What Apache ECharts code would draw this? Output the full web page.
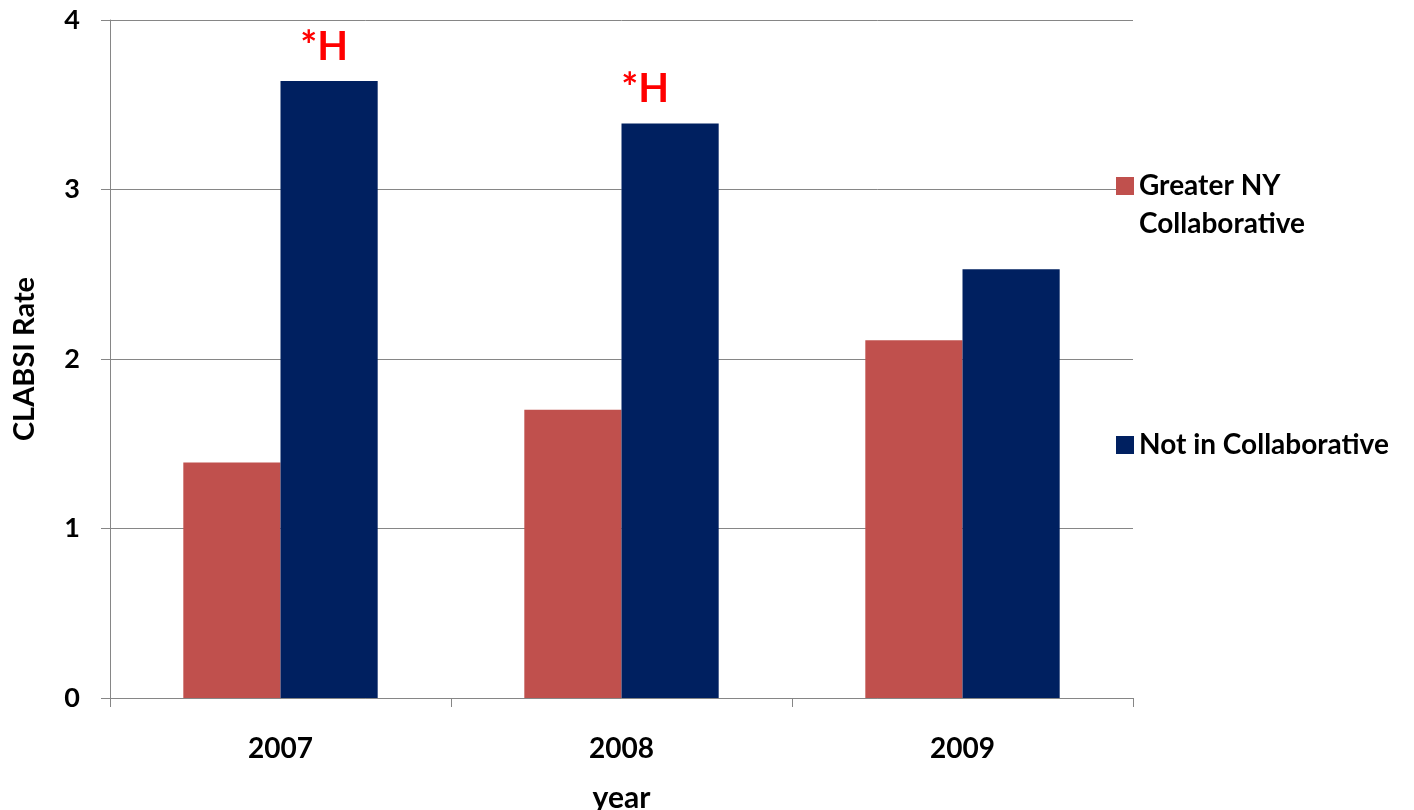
<!DOCTYPE html>
<html>
<head>
<meta charset="utf-8">
<style>
  html, body { margin: 0; padding: 0; background: #ffffff; }
  #chart { width: 1414px; height: 810px; }
</style>
<script src="https://cdn.jsdelivr.net/npm/echarts@6/dist/echarts.min.js"></script>
</head>
<body>
<div id="chart"></div>
<script>
// CLABSI rate by year, collaborative vs non-collaborative hospitals
const years = ['2007', '2008', '2009'];
const greaterNY = [1.39, 1.70, 2.11];
const notInCollab = [3.64, 3.39, 2.53];
const notes = ['*H', '*H', ''];
const seriesNames = ['Greater NY\nCollaborative', 'Not in Collaborative'];
const yTicks = [0, 1, 2, 3, 4];

const FONT = 'Lato';
const GRAY = '#868686';

// horizontal nudge of each significance note above its bar
const noteOffsetX = [-5, -25, 0];

const chart = echarts.init(document.getElementById('chart'));

const legendText = {
  fontFamily: FONT, fontWeight: 'bold', fontSize: 28, color: '#000', lineHeight: 38
};

// two-line legend entry: an empty leading row keeps the swatch level with the first line
const twoLineLegend = {
  formatter: name => '{pad| }\n' + name.split('\n').map(s => '{t|' + s + '}').join('\n'),
  textStyle: {
    rich: {
      pad: { fontSize: 28, lineHeight: 38 },
      t: Object.assign({}, legendText)
    }
  }
};

chart.setOption({
  backgroundColor: '#ffffff',
  animation: false,
  grid: { left: 110, right: 281, top: 20, bottom: 112, outerBoundsMode: 'none' },
  legend: [
    Object.assign({
      data: [seriesNames[0]],
      left: 1111, top: 129,
      icon: 'rect', itemWidth: 18, itemHeight: 18, itemGap: 0,
      selectedMode: false
    }, twoLineLegend),
    {
      data: [seriesNames[1]],
      left: 1111, top: 421,
      icon: 'rect', itemWidth: 18, itemHeight: 18, itemGap: 0,
      textStyle: legendText,
      selectedMode: false
    }
  ],
  xAxis: {
    type: 'category',
    data: years,
    name: 'year',
    nameLocation: 'middle',
    nameGap: 85,
    nameTextStyle: { fontFamily: FONT, fontWeight: 'bold', fontSize: 30, color: '#000' },
    axisLine: { lineStyle: { color: GRAY, width: 1 } },
    axisTick: { show: true, alignWithLabel: false, length: 9, lineStyle: { color: GRAY } },
    axisLabel: { fontFamily: FONT, fontWeight: 'bold', fontSize: 28, color: '#000', margin: 37 }
  },
  yAxis: {
    type: 'value',
    min: yTicks[0],
    max: yTicks[yTicks.length - 1],
    interval: 1,
    name: 'CLABSI Rate',
    nameLocation: 'middle',
    nameGap: 71,
    nameRotate: 90,
    nameTextStyle: { fontFamily: FONT, fontWeight: 'bold', fontSize: 29, color: '#000' },
    axisLine: { show: true, lineStyle: { color: GRAY, width: 1 } },
    axisTick: { show: true, length: 9, lineStyle: { color: GRAY } },
    splitLine: { show: true, lineStyle: { color: GRAY, width: 1 } },
    axisLabel: { fontFamily: FONT, fontWeight: 'bold', fontSize: 27, color: '#000', margin: 30 }
  },
  series: [
    {
      name: seriesNames[0],
      type: 'bar',
      data: greaterNY,
      barGap: '0%',
      barCategoryGap: '43%',
      itemStyle: { color: '#C0504D' }
    },
    {
      name: seriesNames[1],
      type: 'bar',
      data: notInCollab.map((v, i) => ({
        value: v,
        label: {
          show: notes[i] !== '',
          position: 'top',
          distance: 14,
          offset: [noteOffsetX[i], 0],
          formatter: notes[i],
          fontFamily: FONT,
          fontWeight: 'bold',
          fontSize: 40,
          color: '#ff0000'
        }
      })),
      barGap: '0%',
      barCategoryGap: '43%',
      itemStyle: { color: '#002060' }
    }
  ]
});
</script>
</body>
</html>
